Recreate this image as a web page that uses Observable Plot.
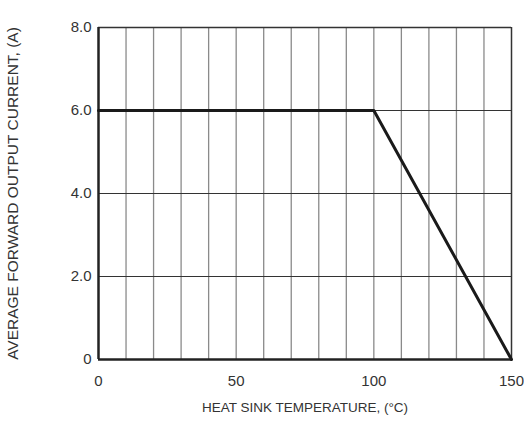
<!DOCTYPE html>
<html><head><meta charset="utf-8">
<script src="https://cdn.jsdelivr.net/npm/d3@7"></script>
<script src="https://cdn.jsdelivr.net/npm/@observablehq/plot@0.6"></script>
<style>body{margin:0;background:#fff}</style>
</head><body><div id="chart"></div>
<script>
const temps = [0, 100, 150];
const currents = [6, 6, 0];
const xTicks = [0, 50, 100, 150];
const yTicks = [0, 2, 4, 6, 8];
const yTickLabels = ["0", "2.0", "4.0", "6.0", "8.0"];
const xGrid = d3.range(10, 150, 10);
const yGrid = [2, 4, 6];
const data = temps.map((t, i) => ({t, c: currents[i]}));
const font = "'Liberation Sans Narrow', 'Liberation Sans', Arial, sans-serif";
const chart = Plot.plot({
  width: 524, height: 423,
  marginLeft: 98, marginRight: 13, marginTop: 27, marginBottom: 64,
  style: {fontFamily: font, background: "#fff"},
  x: {domain: [0, 150], label: null},
  y: {domain: [0, 8], label: null},
  marks: [
    Plot.ruleX(xGrid, {stroke: "#8a8a8a", strokeWidth: 1.3}),
    Plot.ruleY(yGrid, {stroke: "#333", strokeWidth: 1.2}),
    Plot.ruleY([8], {stroke: "#333", strokeWidth: 1.5}),
    Plot.ruleX([150], {stroke: "#333", strokeWidth: 1.5}),
    Plot.ruleX([0], {stroke: "#222", strokeWidth: 2.5}),
    Plot.ruleY([0], {stroke: "#222", strokeWidth: 2.5}),
    Plot.line(data, {x: "t", y: "c", stroke: "#1a1a1a", strokeWidth: 3}),
    Plot.axisX({ticks: xTicks, tickSize: 0, tickPadding: 16, fontSize: 15, fill: "#333", label: null}),
    Plot.axisY({ticks: yTicks, tickSize: 0, tickPadding: 7, fontSize: 15, fill: "#333", tickFormat: d => yTickLabels[yTicks.indexOf(d)], label: null}),
    Plot.text(["HEAT SINK TEMPERATURE, (°C)"], {frameAnchor: "bottom", dy: 52, fontSize: 13.5, fill: "#333", fontFamily: "'Liberation Sans', Arial, sans-serif"}),
    Plot.text(["AVERAGE FORWARD OUTPUT CURRENT, (A)"], {frameAnchor: "left", dx: -85, rotate: -90, textAnchor: "middle", fontSize: 15.5, fill: "#333", fontFamily: "'Liberation Sans', Arial, sans-serif"})
  ]
});
document.getElementById("chart").append(chart);
</script></body></html>
